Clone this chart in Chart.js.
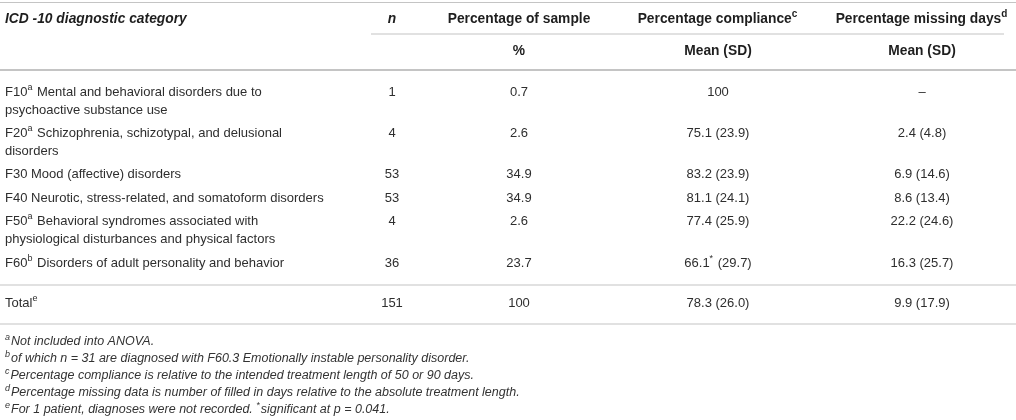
<!DOCTYPE html>
<html>
<head>
<meta charset="utf-8">
<script src="https://cdn.jsdelivr.net/npm/chart.js@4.4.1/dist/chart.umd.min.js"></script>
<style>
html,body{margin:0;padding:0;background:#ffffff;}
#wrap{width:1016px;height:420px;position:relative;}
</style>
</head>
<body>
<div id="wrap"><canvas id="c" width="1016" height="420"></canvas></div>
<script>
// ---------- DATA ----------
const headerTop = ["ICD -10 diagnostic category", "n", "Percentage of sample", "Percentage compliance^c^", "Percentage missing days^d^"];
const headerSub = ["", "", "%", "Mean (SD)", "Mean (SD)"];
const categories = [
  ["F10^a^ Mental and behavioral disorders due to", "psychoactive substance use"],
  ["F20^a^ Schizophrenia, schizotypal, and delusional", "disorders"],
  ["F30 Mood (affective) disorders"],
  ["F40 Neurotic, stress-related, and somatoform disorders"],
  ["F50^a^ Behavioral syndromes associated with", "physiological disturbances and physical factors"],
  ["F60^b^ Disorders of adult personality and behavior"]
];
const nValues        = [1, 4, 53, 53, 4, 36];
const pctSample      = [0.7, 2.6, 34.9, 34.9, 2.6, 23.7];
const complianceMean = [100, 75.1, 83.2, 81.1, 77.4, 66.1];
const complianceSD   = [null, 23.9, 23.9, 24.1, 25.9, 29.7];
const complianceSig  = [false, false, false, false, false, true];
const missingMean    = [null, 2.4, 6.9, 8.6, 22.2, 16.3];
const missingSD      = [null, 4.8, 14.6, 13.4, 24.6, 25.7];
const totalLabel = "Total^e^";
const totalN = 151;
const totalPct = 100;
const totalCompliance = [78.3, 26.0];
const totalMissing = [9.9, 17.9];
const footnotes = [
  "^a^Not included into ANOVA.",
  "^b^of which n = 31 are diagnosed with F60.3 Emotionally instable personality disorder.",
  "^c^Percentage compliance is relative to the intended treatment length of 50 or 90 days.",
  "^d^Percentage missing data is number of filled in days relative to the absolute treatment length.",
  "^e^For 1 patient, diagnoses were not recorded. ^*^significant at p = 0.041."
];

// ---------- LAYOUT (styling, not data) ----------
const L = {
  colX: [5, 392, 519, 718, 922],
  colAlign: ['left', 'center', 'center', 'center', 'center'],
  headerY: 19, subY: 51,
  firstRowY: 92, lineGap: 18, rowGap: 23.4,
  footGap: 17,
  font: '"Liberation Sans", Arial, Helvetica, sans-serif',
  size: 13, headSize: 13.8, footSize: 12.5,
  text: '#2e2e2e', head: '#1e1e1e', foot: '#333333', rule: '#c4c4c4'
};

// ---------- helpers ----------
const fmtMean = v => v === null ? '\u2013' : (Number.isInteger(v) ? String(v) : v.toFixed(1));
const fmtMS = (m, sd, sig) => m === null ? '\u2013' : (sd === null ? fmtMean(m) : fmtMean(m) + (sig ? '^*^' : '') + ' (' + sd.toFixed(1) + ')');

// row positions derived from line counts
const rowY = [];
{ let y = L.firstRowY; categories.forEach(lines => { rowY.push(y); y += (lines.length - 1) * L.lineGap + L.rowGap; }); }
const lastY = rowY[rowY.length - 1];
const bodyRuleY = lastY + 22;
const totalY = bodyRuleY + 18;
const totalRuleY = totalY + 21;
const footY0 = totalRuleY + 18;

const colCells = [[], [], [], [], []];
headerTop.forEach((t, c) => colCells[c].push({ y: L.headerY, lines: [t], kind: 'head', italic: c < 2 }));
headerSub.forEach((t, c) => { if (t) colCells[c].push({ y: L.subY, lines: [t], kind: 'head' }); });
categories.forEach((lines, i) => {
  colCells[0].push({ y: rowY[i], lines });
  colCells[1].push({ y: rowY[i], lines: [String(nValues[i])] });
  colCells[2].push({ y: rowY[i], lines: [fmtMean(pctSample[i])] });
  colCells[3].push({ y: rowY[i], lines: [fmtMS(complianceMean[i], complianceSD[i], complianceSig[i])] });
  colCells[4].push({ y: rowY[i], lines: [fmtMS(missingMean[i], missingSD[i], false)] });
});
colCells[0].push({ y: totalY, lines: [totalLabel] });
colCells[1].push({ y: totalY, lines: [String(totalN)] });
colCells[2].push({ y: totalY, lines: [fmtMean(totalPct)] });
colCells[3].push({ y: totalY, lines: [fmtMS(totalCompliance[0], totalCompliance[1], false)] });
colCells[4].push({ y: totalY, lines: [fmtMS(totalMissing[0], totalMissing[1], false)] });
footnotes.forEach((f, i) => colCells[0].push({ y: footY0 + i * L.footGap, lines: [f], kind: 'foot' }));

const rules = [
  { y: 2.5, x0: 0, x1: 1016, w: 1.2 },
  { y: 34, x0: 371, x1: 1004, w: 1.2 },
  { y: 70, x0: 0, x1: 1016, w: 2 },
  { y: bodyRuleY, x0: 0, x1: 1016, w: 1.2 },
  { y: totalRuleY, x0: 0, x1: 1016, w: 1.2 }
];

function drawRich(ctx, x, y, text, align, opt) {
  const parts = text.split('^');
  const base = (opt.italic ? 'italic ' : '') + (opt.bold ? 'bold ' : '');
  const supSize = Math.round(opt.size * 0.72);
  const segs = parts.map((t, i) => ({ t, sup: i % 2 === 1 })).filter(s => s.t.length);
  let total = 0;
  segs.forEach(s => {
    ctx.font = base + (s.sup ? supSize : opt.size) + 'px ' + L.font;
    s.w = ctx.measureText(s.t).width;
    total += s.w + (s.sup ? 1 : 0);
  });
  let cx = align === 'left' ? x : align === 'right' ? x - total : x - total / 2;
  ctx.textBaseline = 'middle';
  ctx.textAlign = 'left';
  ctx.fillStyle = opt.color;
  segs.forEach(s => {
    ctx.font = base + (s.sup ? supSize : opt.size) + 'px ' + L.font;
    ctx.fillText(s.t, cx, s.sup ? y - opt.size * 0.38 : y);
    cx += s.w + (s.sup ? 1 : 0);
  });
}

const tablePlugin = {
  id: 'tableText',
  beforeDatasetsDraw(chart) {
    const { ctx, scales: { x, y } } = chart;
    ctx.save();
    ctx.strokeStyle = L.rule;
    rules.forEach(r => {
      ctx.lineWidth = r.w;
      ctx.beginPath();
      ctx.moveTo(x.getPixelForValue(r.x0), y.getPixelForValue(r.y));
      ctx.lineTo(x.getPixelForValue(r.x1), y.getPixelForValue(r.y));
      ctx.stroke();
    });
    ctx.restore();
  },
  afterDatasetsDraw(chart) {
    const { ctx } = chart;
    ctx.save();
    chart.data.datasets.forEach((ds, di) => {
      const meta = chart.getDatasetMeta(di);
      meta.data.forEach((pt, i) => {
        const cell = ds.cells[i];
        cell.lines.forEach((ln, k) => {
          const isHead = cell.kind === 'head', isFoot = cell.kind === 'foot';
          drawRich(ctx, pt.x, pt.y + k * L.lineGap, ln, isFoot ? 'left' : ds.align, {
            size: isFoot ? L.footSize : (isHead ? L.headSize : L.size),
            bold: isHead, italic: isFoot || cell.italic,
            color: isHead ? L.head : (isFoot ? L.foot : L.text)
          });
        });
      });
    });
    ctx.restore();
  }
};

new Chart(document.getElementById('c'), {
  type: 'scatter',
  data: {
    datasets: colCells.map((cells, c) => ({
      label: 'col' + c,
      cells,
      align: L.colAlign[c],
      data: cells.map(cell => ({ x: L.colX[c], y: cell.y })),
      pointRadius: 0, pointHoverRadius: 0
    }))
  },
  options: {
    responsive: false, animation: false, events: [],
    layout: { padding: 0 },
    plugins: { legend: { display: false }, tooltip: { enabled: false } },
    scales: {
      x: { type: 'linear', min: 0, max: 1016, display: false },
      y: { type: 'linear', min: 0, max: 420, reverse: true, display: false }
    }
  },
  plugins: [tablePlugin]
});
</script>
</body>
</html>
